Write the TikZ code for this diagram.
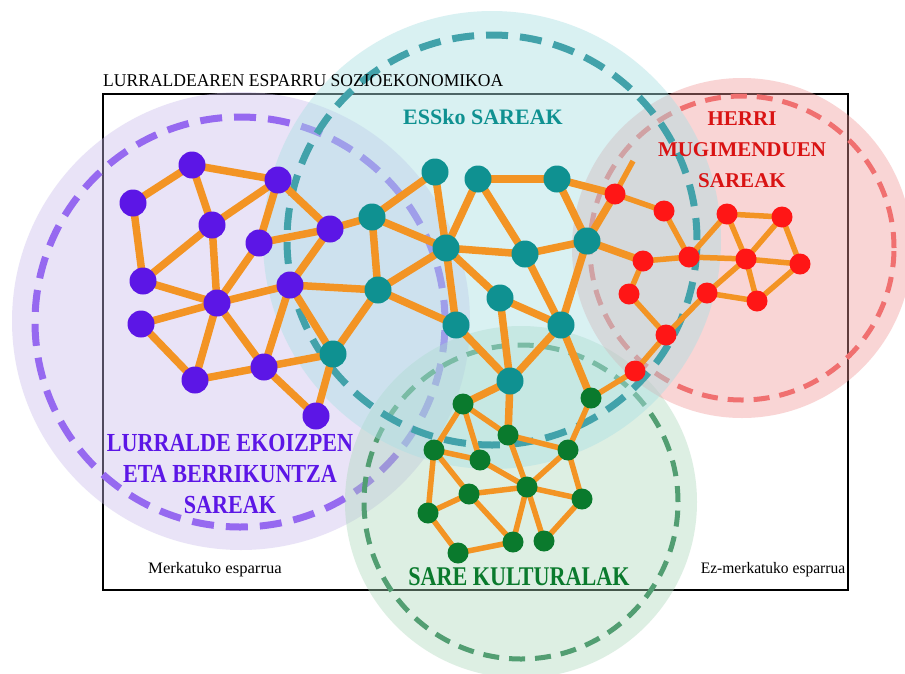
\documentclass[tikz,border=0pt]{standalone}
\usepackage{fontspec}
\setmainfont{Liberation Serif}
\usetikzlibrary{backgrounds}
\pgfdeclarelayer{edgelayer}
\pgfsetlayers{background,edgelayer,main}
\newcommand{\hsq}[2]{\scalebox{#1}[1]{#2}}
\definecolor{cPur}{RGB}{92,22,230}
\definecolor{cTeal}{RGB}{15,145,145}
\definecolor{cRed}{RGB}{255,22,22}
\definecolor{cGrn}{RGB}{10,122,45}
\definecolor{cOr}{RGB}{243,148,36}
\definecolor{fPur}{RGB}{200,187,235}
\definecolor{fTeal}{RGB}{171,224,228}
\definecolor{fRed}{RGB}{242,150,150}
\definecolor{fGrn}{RGB}{172,215,187}
\definecolor{dPur}{RGB}{150,105,240}
\definecolor{dTeal}{RGB}{66,162,170}
\definecolor{dRed}{RGB}{240,112,112}
\definecolor{dGrn}{RGB}{82,158,114}
\tikzset{
  pnode/.style={circle,fill=cPur,minimum size=27pt,inner sep=0pt},
  tnode/.style={circle,fill=cTeal,minimum size=27pt,inner sep=0pt},
  rnode/.style={circle,fill=cRed,minimum size=21pt,inner sep=0pt},
  gnode/.style={circle,fill=cGrn,minimum size=21pt,inner sep=0pt},
  bigedge/.style={draw=cOr,line width=7.5pt},
  smalledge/.style={draw=cOr,line width=5.5pt},
  bigring/.style={line width=7pt,dash pattern=on 22pt off 12pt},
  smallring/.style={line width=5pt,dash pattern=on 16pt off 10pt},
  lbl/.style={inner sep=0pt,align=center}
}
\begin{document}
\begin{tikzpicture}[x=1pt,y=-1pt]
\useasboundingbox (0,0) rectangle (905,673);
\begin{pgfonlayer}{background}
  \fill[white] (0,0) rectangle (905,673);
  \draw[black,line width=2pt] (103,94) rectangle (848,590);
  \fill[fPur,opacity=0.4] (241,321) circle[radius=229pt];
  \draw[dPur,bigring] (240,322) circle[radius=205pt];
  \fill[fGrn,opacity=0.4] (521,502) circle[radius=176pt];
  \draw[dGrn,smallring] (521,502) circle[radius=157pt];
  \fill[fRed,opacity=0.4] (742,248) circle[radius=170pt];
  \draw[dRed,smallring] (742,248) circle[radius=152pt];
  \fill[fTeal,opacity=0.45] (492,240) circle[radius=229pt];
  \draw[dTeal,bigring] (492,240) circle[radius=205pt];
\end{pgfonlayer}

% purple nodes
\node[pnode] (p1) at (192,165) {};
\node[pnode] (p2) at (133,203) {};
\node[pnode] (p3) at (278,180) {};
\node[pnode] (p4) at (212,225) {};
\node[pnode] (p5) at (259,243) {};
\node[pnode] (p6) at (330,229) {};
\node[pnode] (p7) at (143,281) {};
\node[pnode] (p8) at (217,303) {};
\node[pnode] (p9) at (290,285) {};
\node[pnode] (p10) at (141,324) {};
\node[pnode] (p11) at (195,380) {};
\node[pnode] (p12) at (264,367) {};
\node[pnode] (p13) at (316,416) {};
% teal nodes
\node[tnode] (t1) at (372,217) {};
\node[tnode] (t2) at (435,172) {};
\node[tnode] (t3) at (478,179) {};
\node[tnode] (t4) at (557,179) {};
\node[tnode] (t5) at (446,248) {};
\node[tnode] (t6) at (525,254) {};
\node[tnode] (t7) at (587,241) {};
\node[tnode] (t8) at (378,290) {};
\node[tnode] (t9) at (500,298) {};
\node[tnode] (t10) at (456,325) {};
\node[tnode] (t11) at (561,325) {};
\node[tnode] (t12) at (333,354) {};
\node[tnode] (t13) at (510,381) {};
% red nodes
\node[rnode] (r1) at (615,194) {};
\node[rnode] (r2) at (664,211) {};
\node[rnode] (r3) at (643,261) {};
\node[rnode] (r4) at (689,257) {};
\node[rnode] (r5) at (629,294) {};
\node[rnode] (r6) at (707,293) {};
\node[rnode] (r7) at (666,335) {};
\node[rnode] (r8) at (635,371) {};
\node[rnode] (r9) at (727,214) {};
\node[rnode] (r10) at (782,217) {};
\node[rnode] (r11) at (746,259) {};
\node[rnode] (r12) at (800,264) {};
\node[rnode] (r13) at (757,301) {};
\coordinate (rx) at (633,161);
% green nodes
\node[gnode] (g1) at (463,404) {};
\node[gnode] (g2) at (508,435) {};
\node[gnode] (g3) at (591,398) {};
\node[gnode] (g4) at (434,450) {};
\node[gnode] (g5) at (480,460) {};
\node[gnode] (g6) at (568,450) {};
\node[gnode] (g7) at (527,487) {};
\node[gnode] (g8) at (469,494) {};
\node[gnode] (g9) at (582,499) {};
\node[gnode] (g10) at (428,513) {};
\node[gnode] (g11) at (513,542) {};
\node[gnode] (g12) at (544,541) {};
\node[gnode] (g13) at (458,553) {};

\begin{pgfonlayer}{edgelayer}
\foreach \a/\b in {p1/p2,p1/p3,p1/p4,p2/p7,p3/p4,p3/p5,p3/p6,p4/p7,p4/p8,p5/p6,p5/p8,p6/p9,p6/t1,p7/p8,p8/p9,p8/p10,p8/p11,p8/p12,p9/p12,p9/t12,p9/t8,p10/p11,p11/p12,p12/t12,p12/p13,p13/t12,t12/t8,
 t1/t2,t1/t5,t1/t8,t2/t5,t3/t5,t3/t4,t3/t6,t4/t7,t4/r1,t7/r1,t5/t6,t6/t7,t7/r3,t5/t8,t5/t10,t5/t9,t6/t11,t7/t11,t9/t11,t9/t13,t8/t10,t10/t13,t11/t13,t11/g3,t13/g1,t13/g2}
  \draw[bigedge] (\a.center) -- (\b.center);
\foreach \a/\b in {r1/r2,r2/r4,r3/r4,r3/r5,r4/r9,r4/r11,r5/r7,r6/r7,r6/r11,r6/r13,r7/r8,r8/g3,r9/r10,r9/r11,r10/r11,r10/r12,r11/r12,r11/r13,r12/r13,
 g1/g4,g1/g5,g1/g2,g2/g6,g2/g7,g3/g6,g4/g5,g4/g8,g4/g10,g5/g7,g6/g7,g6/g9,g7/g8,g7/g9,g7/g11,g7/g12,g8/g10,g8/g11,g9/g12,g10/g13,g11/g13}
  \draw[smalledge] (\a.center) -- (\b.center);
\draw[smalledge] (r1.center) -- (rx);
\end{pgfonlayer}

% labels
\node[lbl,anchor=west,font=\fontsize{18}{18}\selectfont] (title) at (103,81) {\hsq{0.975}{LURRALDEAREN ESPARRU SOZIOEKONOMIKOA}};
\node[lbl,text=cTeal,font=\bfseries\fontsize{22}{22}\selectfont] (ess) at (483,117) {ESSko SAREAK};
\node[lbl,text=cRed!85!black,font=\bfseries\fontsize{21}{31}\selectfont] (herri) at (742,150) {HERRI\\MUGIMENDUEN\\SAREAK};
\node[lbl,text=cPur,font=\bfseries\fontsize{26}{31}\selectfont] (lurr) at (230,474) {\hsq{0.85}{LURRALDE EKOIZPEN}\\\hsq{0.85}{ETA BERRIKUNTZA}\\\hsq{0.85}{SAREAK}};
\node[lbl,text=cGrn,font=\bfseries\fontsize{27}{27}\selectfont] (kult) at (519,577) {\hsq{0.82}{SARE KULTURALAK}};
\node[lbl,font=\fontsize{16}{16}\selectfont] (merk) at (215,570) {\hsq{1.04}{Merkatuko esparrua}};
\node[lbl,font=\fontsize{16}{16}\selectfont] (ezmerk) at (773,570) {\hsq{0.97}{Ez-merkatuko esparrua}};
\end{tikzpicture}
\end{document}
